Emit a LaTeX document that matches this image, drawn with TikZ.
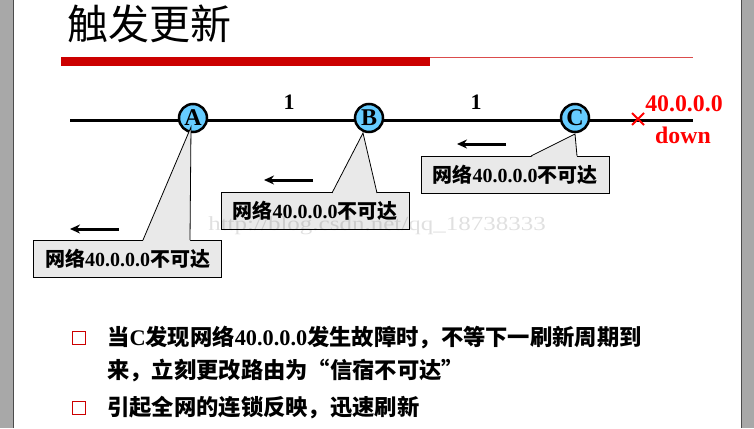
\documentclass[tikz,border=0pt]{standalone}
\usepackage{fontspec}
\setmainfont{Liberation Serif}
\newfontfamily\cjk{Noto Sans CJK SC}
\usetikzlibrary{arrows.meta}
\definecolor{nodeblue}{HTML}{66CCFF}
\definecolor{barred}{HTML}{CC0000}
\definecolor{callgray}{HTML}{E9E9E9}
\definecolor{sidegray}{HTML}{A8A8A8}
\definecolor{downred}{HTML}{FF0000}
\newcommand\cjt[1]{{\cjk #1}}
\begin{document}
\begin{tikzpicture}[x=1pt,y=-1pt,
  router/.style={circle,draw=black,line width=2.5pt,fill=nodeblue,minimum size=28pt,inner sep=0pt,font=\fontsize{24}{24}\selectfont\bfseries},
  callbox/.style={draw=black,line width=0.8pt,fill=callgray,minimum width=188pt,minimum height=37pt,inner sep=0pt,font=\fontsize{20}{20}\selectfont\bfseries},
  flow/.style={line width=3pt,-{Stealth[length=10pt,width=9pt]}},
  link/.style={line width=3pt},
  tail/.style={draw=black,line width=0.8pt},
  body/.style={anchor=west,inner sep=0pt,font=\fontsize{22.3}{22.3}\selectfont\bfseries},
  bullet/.style={draw=barred,line width=1.8pt,minimum size=13pt,inner sep=0pt}]
\useasboundingbox (0,0) rectangle (754,428);
% side bars
\fill[sidegray] (0,0) rectangle (13,428);
\draw[black!70,line width=1pt] (13,0) -- (13,428);
\fill[sidegray] (741,0) rectangle (754,428);
\draw[black!70,line width=1pt] (741,0) -- (741,428);
% title
\node[anchor=west,inner sep=0pt,font=\fontsize{41}{41}\selectfont] (title) at (67,24) {\cjt{触发更新}};
\fill[barred] (61,57) rectangle (430,66);
\draw[barred!70,line width=1pt] (430,58) -- (693,58);
% link
\coordinate (l0) at (70,120);
\coordinate (l1) at (693,120);
\draw[link] (l0) -- (l1);
\node[router] (A) at (193,118) {A};
\node[router] (B) at (369,118) {B};
\node[router] (C) at (575,118) {C};
\node[font=\fontsize{22}{22}\selectfont\bfseries] (m1) at (289,102) {1};
\node[font=\fontsize{22}{22}\selectfont\bfseries] (m2) at (476,102) {1};
% failure
\draw[downred,line width=2pt] (632,113) -- (644,125) (632,125) -- (644,113);
\node[text=downred,font=\fontsize{23.8}{23.8}\selectfont\bfseries] (net) at (684,104) {40.0.0.0};
\node[text=downred,font=\fontsize{23.8}{23.8}\selectfont\bfseries] (dn) at (683,135) {down};
% callouts
\node[callbox] (bA) at (127.5,258.5) {\cjt{网络}40.0.0.0\cjt{不可达}};
\node[callbox] (bB) at (315,211) {\cjt{网络}40.0.0.0\cjt{不可达}};
\node[callbox] (bC) at (515,174.5) {\cjt{网络}40.0.0.0\cjt{不可达}};
\coordinate (pA) at (191,127);
\coordinate (pB) at (363,133);
\coordinate (pC) at (575,134);
\fill[callgray] (143,241) -- (pA) -- (190,241) -- cycle;
\draw[tail] (143,240) -- (pA) -- (190,240);
\fill[callgray] (332,194) -- (pB) -- (377,194) -- cycle;
\draw[tail] (332,193) -- (pB) -- (377,193);
\fill[callgray] (531,157) -- (pC) -- (577,157) -- cycle;
\draw[tail] (531,156) -- (pC) -- (577,156);
% arrows
\coordinate (aA1) at (119,229); \coordinate (aA0) at (70,229);
\coordinate (aB1) at (313,180); \coordinate (aB0) at (264,180);
\coordinate (aC1) at (506,144); \coordinate (aC0) at (457,144);
\draw[flow] (aA1) -- (aA0);
\draw[flow] (aB1) -- (aB0);
\draw[flow] (aC1) -- (aC0);
% watermark
\node[text=black,opacity=0.12,xscale=1.25,font=\fontsize{20}{20}\selectfont] (wm) at (377,226) {http://blog.csdn.net/qq\_18738333};
% bullets
\node[bullet] (s1) at (79,338) {};
\node[bullet] (s2) at (79,408) {};
\node[body] (t1) at (107,338) {\cjt{当}C\cjt{发现网络}40.0.0.0\cjt{发生故障时，不等下一刷新周期到}};
\node[body] (t2) at (107,371) {\cjt{来，立刻更改路由为“信宿不可达”}};
\node[body] (t3) at (107,408) {\cjt{引起全网的连锁反映，迅速刷新}};
\end{tikzpicture}
\end{document}
